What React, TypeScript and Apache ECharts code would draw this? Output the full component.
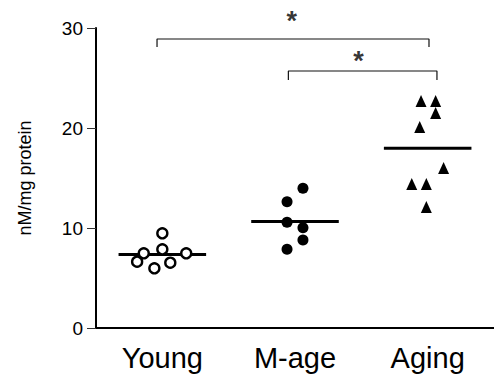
import React, { useEffect, useRef } from "react";
import * as echarts from "echarts";

const categories = ["Young", "M-age", "Aging"];
const yTicks = [0, 10, 20, 30];

const youngValues = [9.47, 7.47, 7.87, 7.47, 6.63, 5.97, 6.53];
const youngOffsets = [0.0, -0.14, 0.0, 0.18, -0.19, -0.06, 0.06];

const mageValues = [13.97, 12.63, 10.57, 10.03, 8.8, 7.87];
const mageOffsets = [0.06, -0.06, -0.06, 0.06, 0.06, -0.06];

const agingValues = [22.7, 22.7, 21.5, 20.1, 16.0, 14.4, 14.4, 12.1];
const agingOffsets = [-0.05, 0.06, 0.06, -0.06, 0.12, -0.12, -0.01, -0.01];

// significance brackets: [x start, x end, top y, bottom y], star position [x, y]
const bracketLong = [0.96, 3.01, 28.9, 28.1];
const bracketShort = [1.95, 3.07, 25.7, 24.8];
const starLong = [1.975, 30.7];
const starShort = [2.478, 26.7];

const FONT = "'Liberation Sans', Arial, sans-serif";

const mean = (a: number[]) => a.reduce((s, v) => s + v, 0) / a.length;
const pts = (vals: number[], offs: number[], idx: number) =>
  vals.map((v, i) => [idx + 1 + offs[i], v]);
const bracket = (b: number[]) => [
  [b[0], b[3]],
  [b[0], b[2]],
  [b[1], b[2]],
  [b[1], b[3]],
];

export default function App() {
  const ref = useRef<HTMLDivElement>(null);
  useEffect(() => {
    if (!ref.current) return;
    const chart = echarts.init(ref.current, null, { renderer: "svg" });
    const groups = [youngValues, mageValues, agingValues];
    const meanSeries = groups.map((g, i) => ({
      type: "line",
      xAxisIndex: 1,
      data: [
        [i + 1 - 0.33, mean(g)],
        [i + 1 + 0.33, mean(g)],
      ],
      symbol: "none",
      lineStyle: { color: "#000", width: 3 },
      z: 3,
    }));
    chart.setOption({
      animation: false,
      textStyle: { fontFamily: FONT },
      grid: { left: 96, top: 28, bottom: 51, right: -7, containLabel: false },
      xAxis: [
        {
          type: "category",
          data: categories,
          position: "bottom",
          axisLine: { lineStyle: { color: "#000", width: 2 } },
          axisTick: { alignWithLabel: true, length: 8, lineStyle: { color: "#333", width: 1 } },
          axisLabel: { fontSize: 29, color: "#000", margin: 15, fontFamily: FONT },
          splitLine: { show: false },
        },
        { type: "value", min: 0.5, max: 3.5, show: false },
      ],
      yAxis: {
        type: "value",
        min: yTicks[0],
        max: yTicks[yTicks.length - 1],
        interval: 10,
        name: "nM/mg protein",
        nameLocation: "middle",
        nameGap: 62,
        nameTextStyle: { fontSize: 18, color: "#000", fontFamily: FONT },
        axisLine: { show: true, lineStyle: { color: "#000", width: 2 } },
        axisTick: { show: true, length: 9, lineStyle: { color: "#333", width: 1 } },
        axisLabel: { fontSize: 19, color: "#000", margin: 13, fontFamily: FONT },
        splitLine: { show: false },
      },
      series: [
        ...meanSeries,
        {
          type: "scatter",
          xAxisIndex: 1,
          data: pts(youngValues, youngOffsets, 0),
          symbol: "circle",
          symbolSize: 10,
          itemStyle: { color: "#fff", borderColor: "#000", borderWidth: 2.4, opacity: 1 },
          z: 4,
        },
        {
          type: "scatter",
          xAxisIndex: 1,
          data: pts(mageValues, mageOffsets, 1),
          symbol: "circle",
          symbolSize: 11,
          itemStyle: { color: "#000", opacity: 1 },
          z: 4,
        },
        {
          type: "scatter",
          xAxisIndex: 1,
          data: pts(agingValues, agingOffsets, 2),
          symbol: "triangle",
          symbolSize: [11, 12],
          itemStyle: { color: "#000", opacity: 1 },
          z: 4,
        },
        {
          type: "line",
          xAxisIndex: 1,
          data: bracket(bracketLong),
          symbol: "none",
          clip: false,
          lineStyle: { color: "#111", width: 1.2 },
        },
        {
          type: "line",
          xAxisIndex: 1,
          data: bracket(bracketShort),
          symbol: "none",
          clip: false,
          lineStyle: { color: "#111", width: 1.2 },
        },
        {
          type: "scatter",
          xAxisIndex: 1,
          data: [starLong, starShort],
          symbolSize: 0,
          clip: false,
          label: {
            show: true,
            position: "inside",
            formatter: "*",
            fontSize: 27,
            fontWeight: "bold",
            color: "#000",
            fontFamily: FONT,
          },
        },
      ],
    });
    return () => chart.dispose();
  }, []);
  return (
    <div
      ref={ref}
      style={{ position: "absolute", left: 0, top: 0, width: 494, height: 379 }}
    />
  );
}
